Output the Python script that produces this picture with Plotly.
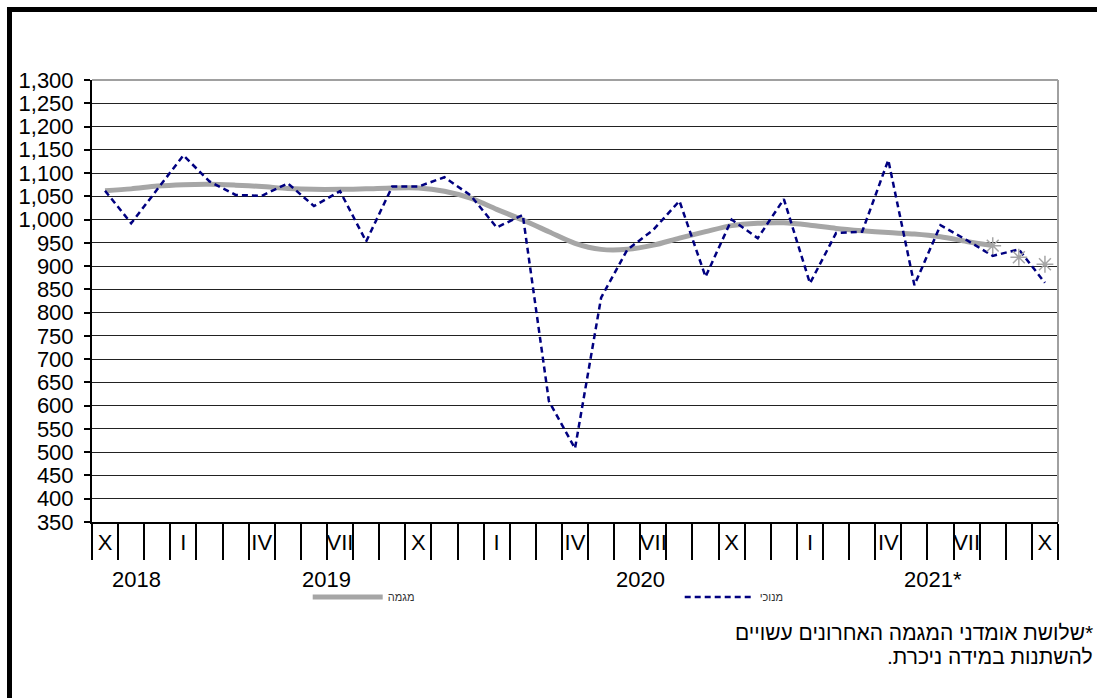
import plotly.graph_objects as go

# ---- data ----
month_labels = ["X", "", "", "I", "", "", "IV", "", "", "VII", "", "", "X", "", "",
                "I", "", "", "IV", "", "", "VII", "", "", "X", "", "",
                "I", "", "", "IV", "", "", "VII", "", "", "X"]
year_labels = ["2018", "2019", "2020", "2021*"]
year_first_month = [0, 3, 15, 27]          # index of first month of each year
year_label_pos = [1.2, 8.5, 20.5, 31.7]

seasonally_adjusted = [1062, 992, 1065, 1138, 1082, 1053, 1051, 1078, 1029, 1061, 953, 1071,
                       1071, 1091, 1052, 983, 1010, 610, 508, 832, 935, 978, 1040, 877,
                       1000, 960, 1044, 863, 971, 974, 1128, 859, 988, 956, 922, 936, 864]
trend = [1062, 1066, 1072, 1075, 1076, 1074, 1071, 1067, 1065, 1065, 1066, 1068,
         1068, 1061, 1046, 1022, 999, 974, 949, 936, 936, 945, 960, 974,
         987, 992, 993, 988, 981, 976, 972, 969, 963, 953, 944, 919, 904]
n_provisional = 3
names = ["מגמה", "מנוכי"]
footnote_lines = ["\u200f*שלושת אומדני המגמה האחרונים עשויים", "להשתנות במידה ניכרת.\u200f"]

n = len(month_labels)
idx = list(range(n))
FONT = "Liberation Sans, Arial, sans-serif"
GRAY = "#A6A6A6"

fig = go.Figure()
fig.add_trace(go.Scatter(
    x=idx[: n - n_provisional + 1], y=trend[: n - n_provisional + 1], mode="lines",
    line=dict(color=GRAY, width=5, shape="spline", smoothing=0.8), name=names[0]))
fig.add_trace(go.Scatter(
    x=idx, y=seasonally_adjusted, mode="lines",
    line=dict(color="#000080", width=2.5, dash="6px,4px"), name=names[1]))
fig.add_trace(go.Scatter(
    x=idx[n - n_provisional:], y=trend[n - n_provisional:], mode="markers",
    marker=dict(symbol="asterisk-open", size=14, color=GRAY, line=dict(color=GRAY, width=1.5)),
    showlegend=False, hoverinfo="skip"))

boundaries = [i - 0.5 for i in range(n + 1)]
year_bounds = [year_first_month[0] - 0.5] + [f - 0.5 for f in year_first_month[1:]] + [n - 0.5]

fig.update_layout(
    width=1097, height=698,
    margin=dict(l=92, r=39, t=80, b=176),
    paper_bgcolor="white", plot_bgcolor="white",
    font=dict(family=FONT, color="black"),
    xaxis=dict(
        range=[-0.5, n - 0.5], tickmode="array", tickvals=idx, ticktext=month_labels,
        ticks="", showgrid=False, zeroline=False, showline=True, linecolor="black", linewidth=2,
        tickfont=dict(size=22, family=FONT), ticklabelstandoff=0,
        minor=dict(tickmode="array", tickvals=boundaries, ticks="outside", ticklen=36,
                   tickwidth=2, tickcolor="black", showgrid=False),
    ),
    xaxis2=dict(
        overlaying="x", anchor="y", side="bottom", matches="x",
        range=[-0.5, n - 0.5], tickmode="array", tickvals=year_bounds,
        ticks="outside", ticklen=68, tickwidth=2, tickcolor="black",
        showticklabels=False, showgrid=False, zeroline=False, showline=False,
    ),
    yaxis=dict(
        range=[350, 1300], dtick=50, tick0=350, tickformat=",", ticks="outside", ticklen=6,
        tickwidth=2, tickcolor="black", showline=True, linecolor="black", linewidth=2,
        showgrid=True, gridcolor="#222222", gridwidth=1.3, zeroline=False,
        tickfont=dict(size=22, family=FONT), ticklabelstandoff=6,
    ),
    legend=dict(orientation="h", x=0.2233, y=-0.137, xanchor="left", yanchor="top",
                entrywidth=287, itemwidth=70, font=dict(size=11, family=FONT, color="#333333"),
                bgcolor="rgba(0,0,0,0)"),
    showlegend=True,
)

# year labels
for lab, pos in zip(year_labels, year_label_pos):
    fig.add_annotation(x=pos, y=-0.131, xref="x", yref="paper", text=lab, showarrow=False,
                       font=dict(size=22, family=FONT), xanchor="center", yanchor="middle")

# footnote
fig.add_annotation(x=1.038, y=-0.2489, xref="paper", yref="paper", text=footnote_lines[0],
                   showarrow=False, xanchor="right", yanchor="middle", align="right",
                   font=dict(size=21, family=FONT))
fig.add_annotation(x=1.038, y=-0.3054, xref="paper", yref="paper", text=footnote_lines[1],
                   showarrow=False, xanchor="right", yanchor="middle", align="right",
                   font=dict(size=21, family=FONT))

# plot-area border (gray top & right) and outer frame
fig.add_shape(type="line", xref="paper", yref="paper", x0=0, x1=1, y0=1, y1=1,
              line=dict(color="#A0A0A0", width=2))
fig.add_shape(type="line", xref="paper", yref="paper", x0=1, x1=1, y0=0, y1=1,
              line=dict(color="#A0A0A0", width=2))
fig.add_shape(type="line", xref="paper", yref="paper", x0=-0.088, x1=1.05, y0=1.1595, y1=1.1595,
              line=dict(color="black", width=5))
fig.add_shape(type="line", xref="paper", yref="paper", x0=-0.0854, x1=-0.0854, y0=1.165, y1=-0.42,
              line=dict(color="black", width=5))

fig.write_html("out.html", config={"displayModeBar": False},
               post_script="document.body.style.margin='0';document.body.style.overflow='hidden';")
